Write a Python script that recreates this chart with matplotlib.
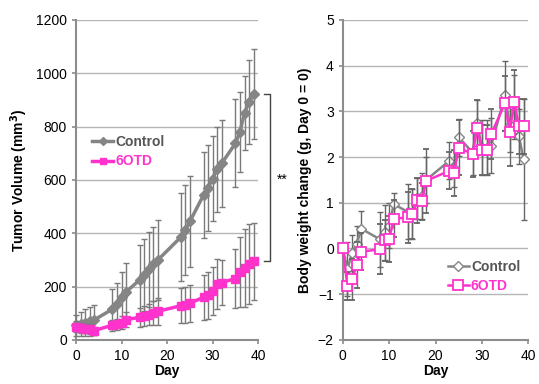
import matplotlib
matplotlib.use("Agg")
import matplotlib.pyplot as plt
from matplotlib.lines import Line2D

# sampling days (same for both panels)
days = [0, 1, 2, 3, 4, 8, 9, 10, 11, 14, 15, 16, 17, 18, 23, 24, 25,
        28, 29, 30, 31, 32, 35, 36, 37, 38, 39]

# tumor volume (mm^3)
ctrl_vol = [55, 60, 65, 70, 75, 115, 135, 160, 180, 225, 245, 265, 285, 300,
            385, 412, 444, 543, 570, 605, 640, 662, 737, 781, 851, 893, 922]
ctrl_vol_err = [40, 45, 50, 55, 55, 75, 80, 95, 110, 130, 135, 140, 140, 150,
                165, 170, 170, 160, 160, 160, 160, 163, 165, 150, 140, 157, 170]
otd_vol = [50, 45, 42, 40, 35, 55, 58, 65, 75, 85, 90, 95, 100, 107,
           128, 130, 137, 160, 168, 185, 210, 215, 230, 255, 270, 285, 295]
otd_vol_err = [20, 20, 18, 18, 15, 20, 20, 25, 28, 35, 38, 40, 45, 50,
               65, 68, 70, 85, 88, 90, 95, 85, 110, 130, 145, 150, 145]

# body weight change (g)
ctrl_bw = [0, -0.45, -0.1, 0.1, 0.43, 0.2, 0.35, 0.5, 0.97, 0.8, 0.75, 1.1, 1.15, 1.5,
           1.92, 1.75, 2.43, 2.1, 2.75, 2.2, 2.2, 2.25, 3.35, 2.7, 3.1, 2.45, 1.95]
ctrl_bw_err = [0, 0.6, 0.4, 0.4, 0.4, 0.6, 0.6, 0.5, 0.25, 0.6, 0.55, 0.45, 0.5, 0.5,
               0.4, 0.4, 0.4, 0.5, 0.5, 0.6, 0.6, 0.6, 0.75, 0.6, 0.7, 0.6, 1.33]
otd_bw = [0, -0.82, -0.67, -0.36, -0.07, -0.02, 0.18, 0.21, 0.65, 0.68, 0.75, 1.05, 1.03, 1.48,
          1.70, 1.65, 2.2, 2.07, 2.64, 2.15, 2.15, 2.5, 3.18, 2.55, 3.21, 2.67, 2.67]
otd_bw_err = [0, 0.3, 0.45, 0.5, 0.4, 0.55, 0.45, 0.5, 0.4, 0.55, 0.55, 0.5, 0.4, 0.7,
              0.4, 0.5, 0.6, 0.5, 0.6, 0.55, 0.55, 0.55, 0.6, 0.75, 0.7, 0.6, 0.6]

gray = "#858585"
pink = "#ff33cc"
errc = "#7a7a7a"

plt.rcParams['font.family'] = ['Liberation Sans', 'DejaVu Sans']

fig = plt.figure(figsize=(5.39, 3.84), dpi=100)
ax1 = fig.add_axes([0.141, 0.115, 0.338, 0.833])
ax2 = fig.add_axes([0.636, 0.115, 0.344, 0.833])


def style_axes(ax):
    for s in ["top", "right"]:
        ax.spines[s].set_visible(False)
    for s in ["left", "bottom"]:
        ax.spines[s].set_color("#8c8c8c")
        ax.spines[s].set_linewidth(1.5)
    ax.yaxis.grid(True, color="#b5b5b5", linewidth=1.0)
    ax.set_axisbelow(True)
    ax.tick_params(axis="both", colors="#8c8c8c", labelcolor="black",
                   labelsize=10, length=3, width=1.2)
    ax.set_xlim(0, 40)
    ax.set_xticks([0, 10, 20, 30, 40])
    ax.set_xlabel("Day", fontsize=10, fontweight="bold", labelpad=1)


# left panel: tumor volume
style_axes(ax1)
ax1.errorbar(days, ctrl_vol, yerr=ctrl_vol_err, color=gray, ecolor=errc,
             elinewidth=1.0, capsize=2.5, capthick=1.0, lw=2.5,
             marker="D", ms=5, mfc=gray, mec=gray, clip_on=False, zorder=3)
ax1.errorbar(days, otd_vol, yerr=otd_vol_err, color=pink, ecolor=errc,
             elinewidth=1.0, capsize=2.5, capthick=1.0, lw=2.5,
             marker="s", ms=6, mfc=pink, mec=pink, clip_on=False, zorder=4)
ax1.set_ylim(0, 1200)
ax1.set_yticks(range(0, 1201, 200))
ax1.set_ylabel("Tumor Volume (mm$^\\mathbf{3}$)", fontsize=10, fontweight="bold", labelpad=4)
h1 = [Line2D([], [], color=gray, lw=2.5, marker="D", ms=4, mfc=gray, mec=gray),
      Line2D([], [], color=pink, lw=2.5, marker="s", ms=5, mfc=pink, mec=pink)]
leg1 = ax1.legend(h1, ["Control", "6OTD"], loc="upper left", bbox_to_anchor=(0.02, 0.68),
                  frameon=False, handlelength=1.5, handletextpad=0.15, labelspacing=0.4,
                  prop={"weight": "bold", "size": 10})
for t, c in zip(leg1.get_texts(), ["#555555", pink]):
    t.set_color(c)

# significance bracket
ax1.plot([41.3, 42.6, 42.6, 41.3], [922, 922, 295, 295], color="#444444",
         lw=1.0, clip_on=False)
ax1.text(45.3, 600, "**", fontsize=10, ha="center", va="center", clip_on=False)

# right panel: body weight change
style_axes(ax2)
ax2.errorbar(days, ctrl_bw, yerr=ctrl_bw_err, color=gray, ecolor="#666666",
             elinewidth=1.0, capsize=2.5, capthick=1.0, lw=1.8,
             marker="D", ms=5, mfc="white", mec=gray, mew=1.0, clip_on=False, zorder=3)
ax2.errorbar(days, otd_bw, yerr=otd_bw_err, color=pink, ecolor="#666666",
             elinewidth=1.0, capsize=2.5, capthick=1.0, lw=1.8,
             marker="s", ms=7, mfc="white", mec=pink, mew=1.3, clip_on=False, zorder=4)
ax2.set_ylim(-2, 5)
ax2.set_yticks(range(-2, 6))
ax2.set_ylabel("Body weight change (g, Day 0 = 0)", fontsize=10, fontweight="bold", labelpad=4)
h2 = [Line2D([], [], color=gray, lw=1.8, marker="D", ms=5, mfc="white", mec=gray),
      Line2D([], [], color=pink, lw=1.8, marker="s", ms=7, mfc="white", mec=pink, mew=1.3)]
leg2 = ax2.legend(h2, ["Control", "6OTD"], loc="upper left", bbox_to_anchor=(0.5, 0.29),
                  frameon=False, handlelength=1.5, handletextpad=0.15, labelspacing=0.4,
                  prop={"weight": "bold", "size": 10})
for t, c in zip(leg2.get_texts(), ["#555555", pink]):
    t.set_color(c)

fig.savefig("out.png", dpi=100)
